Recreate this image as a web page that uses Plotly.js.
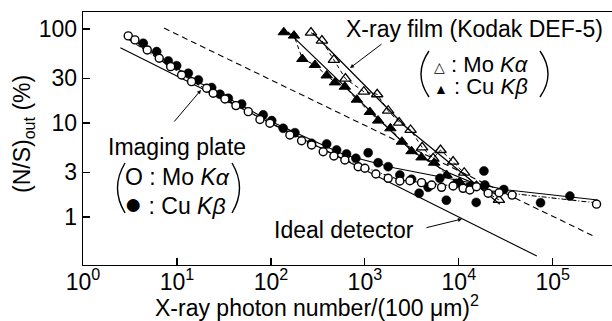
<!DOCTYPE html>
<html>
<head>
<meta charset="utf-8">
<script src="https://cdn.plot.ly/plotly-3.0.1.min.js"></script>
<style>html,body{margin:0;padding:0;background:#fff;}#chart{width:612px;height:321px;}</style>
</head>
<body>
<div id="chart"></div>
<script>
// ---- Data (x: photons per (100 µm)^2, y: (N/S)out in %) ----
// Imaging plate, Mo Kα (open circles)
const ipMoX = [3.03,3.57,4.83,6.48,8.57,11.2,14.3,20.7,24.3,32.4,42.4,57.4,76.4,97.5,159,212,271,360,468,612,849,1000,1309,1770,2355,3010,4010,5130,6550,8690,11100,13100,15400,20500,26800,36900,292000];
const ipMoY = [84.3,76.4,59.8,48.8,39.7,32.4,27.5,23.4,20.7,18.0,15.3,13.2,10.9,9.93,7.45,6.48,5.83,4.95,4.46,4.04,3.43,3.30,2.87,2.58,2.42,2.43,2.32,2.19,2.07,2.14,2.02,1.94,2.10,1.79,1.81,1.71,1.37];
// Imaging plate, Cu Kβ (filled circles)
const ipCuX = [4.38,6.08,8.08,9.93,13.2,16.9,23.4,28.7,35.2,48.8,82.8,102,135,180,271,392,500,638,802,1084,1384,1770,2355,3140,3780,4710,6280,7360,9460,12600,15300,18500,18900,30100,74000,152000];
const ipCuY = [70.4,57.4,45.7,40.7,33.8,28.7,23.8,20.2,18.3,15.9,12.2,10.6,8.78,7.88,6.08,5.98,5.16,4.68,4.21,4.83,3.78,3.43,2.80,2.52,1.79,2.07,2.58,1.51,2.28,2.07,1.43,3.09,2.19,1.96,1.42,1.67];
// X-ray film (Kodak DEF-5), Mo Kα (open triangles)
const filmMoX = [267,349,468,621,975,1352,1770,2317,3063,4070,5330,6380,8690,11400,15400,26700];
const filmMoY = [91.4,75.1,46.8,29.6,21.5,20.2,13.5,10.1,8.43,5.51,4.21,5.16,3.88,2.96,2.14,1.52];
// X-ray film, Cu Kβ (filled triangles)
const filmCuX = [137,176,216,294,392,480,612,822,1130,1384,1868,2477,3140,4010,5460,7400,10200,13600];
const filmCuY = [92.2,84.9,47.9,41.4,32.0,27.0,24.3,17.7,13.1,10.6,8.78,6.32,5.01,4.30,3.78,2.80,2.35,2.14];
// Fitted curves
const fitIpCuX = [3.01,17.6,97.5,612,2085,7100,33200,301000];
const fitIpCuY = [82.2,26.6,10.5,4.57,3.32,2.60,1.94,1.52];
const fitIpMoX = [3.01,17.6,97.5,612,2355,7100,33200,301000];
const fitIpMoY = [78.3,24.8,10.0,4.04,2.47,2.19,1.80,1.41];
const fitFilmMoX = [280,692,2800,12200,27300];
const fitFilmMoY = [90.6,36.6,8.85,2.66,1.37];
const fitFilmCuX = [152,612,3160,7450,15200,27300];
const fitFilmCuY = [92.9,24.2,5.04,3.01,2.24,1.67];
// Ideal detector and dashed reference line (end points)
const idealX = [2.5,67600];
const idealY = [63.2,0.385];
const dashedX = [7.28,269000];
const dashedY = [102,0.63];
// Tick labels
const xTickVals = [1,10,100,1000,10000,100000];
const xTickText = ['10<sup>0</sup>','10<sup>1</sup>','10<sup>2</sup>','10<sup>3</sup>','10<sup>4</sup>','10<sup>5</sup>'];
const yTickVals = [1,3,10,30,100];
const yTickText = ['1','3','10','30','100'];

// ---- Layout helpers (pixel -> paper) ----
const L=83, R=612, T=12, B=265;
const PX = p => (p-L)/(R-L);
const PY = p => (B-p)/(B-T);
const FONT = 'Liberation Sans, Arial, sans-serif';

const traces = [
  {x: idealX, y: idealY, mode:'lines', line:{color:'#000', width:1.1}},
  {x: dashedX, y: dashedY, mode:'lines', line:{color:'#000', width:1.1, dash:'6px,4px'}},
  {x: fitIpCuX, y: fitIpCuY, mode:'lines', line:{color:'#000', width:1.1}},
  {x: fitIpMoX, y: fitIpMoY, mode:'lines', line:{color:'#000', width:1.1, dash:'5px,2px,1px,2px'}},
  {x: fitFilmMoX, y: fitFilmMoY, mode:'lines', line:{color:'#000', width:1.2}},
  {x: fitFilmCuX, y: fitFilmCuY, mode:'lines', line:{color:'#000', width:1.2}},
  {x: filmCuX, y: filmCuY, mode:'lines+markers', line:{color:'#000', width:1, dash:'4px,3px'},
   marker:{symbol:'triangle-up', size:10, color:'#000', line:{color:'#000', width:1}}},
  {x: filmMoX, y: filmMoY, mode:'lines+markers', line:{color:'#000', width:1, dash:'4px,3px'},
   marker:{symbol:'triangle-up-open', size:10, color:'#000', line:{color:'#000', width:1.3}}},
  {x: ipCuX, y: ipCuY, mode:'markers',
   marker:{symbol:'circle', size:9, color:'#000', line:{color:'#000', width:0.5}}},
  {x: ipMoX, y: ipMoY, mode:'markers',
   marker:{symbol:'circle', size:8, color:'#fff', line:{color:'#000', width:1.4}}}
];

const tf = {family: FONT, size: 23, color:'#000'};
const af = {family: FONT, size: 23, color:'#000'};
const lf = {family: FONT, size: 22, color:'#000'};

const annotations = [
  {xref:'paper', yref:'paper', x:PX(344), y:PY(29), xanchor:'left', yanchor:'middle', showarrow:false,
   text:'X-ray film (Kodak DEF-5)', font:af},
  {xref:'paper', yref:'paper', x:PX(432), y:PY(64), xanchor:'left', yanchor:'middle', showarrow:false,
   text:'<span style="font-size:14px">△</span> : Mo <i>K</i><i>α</i>', font:lf},
  {xref:'paper', yref:'paper', x:PX(432), y:PY(87), xanchor:'left', yanchor:'middle', showarrow:false,
   text:'<span style="font-size:14px">▲</span> : Cu <i>K</i><i>β</i>', font:lf},
  {xref:'paper', yref:'paper', x:PX(106), y:PY(147), xanchor:'left', yanchor:'middle', showarrow:false,
   text:'Imaging plate', font:af},
  {xref:'paper', yref:'paper', x:PX(123), y:PY(177), xanchor:'left', yanchor:'middle', showarrow:false,
   text:'O : Mo <i>K</i><i>α</i>', font:af},
  {xref:'paper', yref:'paper', x:PX(122), y:PY(203), xanchor:'left', yanchor:'middle', showarrow:false,
   text:'<span style="font-size:30px">●</span> : Cu <i>K</i><i>β</i>', font:af},
  {xref:'paper', yref:'paper', x:PX(272), y:PY(230), xanchor:'left', yanchor:'middle', showarrow:false,
   text:'Ideal detector', font:af},
  // arrows
  {xref:'paper', yref:'paper', x:PX(201), y:PY(90), ax:173-201, ay:123-90, text:'', showarrow:true,
   arrowhead:2, arrowsize:0.8, arrowwidth:1, arrowcolor:'#000'},
  {xref:'paper', yref:'paper', x:PX(350), y:PY(68), ax:383-350, ay:43-68, text:'', showarrow:true,
   arrowhead:2, arrowsize:0.8, arrowwidth:1, arrowcolor:'#000'},
  {xref:'paper', yref:'paper', x:PX(462), y:PY(219), ax:425-462, ay:228-219, text:'', showarrow:true,
   arrowhead:2, arrowsize:0.8, arrowwidth:1, arrowcolor:'#000'},
  // axis titles
  {xref:'paper', yref:'paper', x:PX(317), y:PY(306), xanchor:'center', yanchor:'middle', showarrow:false,
   text:'X-ray photon number/(100 μm)<sup>2</sup>', font:{family:FONT, size:23, color:'#000'}},
  {xref:'paper', yref:'paper', x:PX(23), y:PY(134), xanchor:'center', yanchor:'middle', showarrow:false,
   textangle:-90, text:'(N/S)<sub>out</sub> (%)', font:{family:FONT, size:23, color:'#000'}}
];

const shapes = [
  // big parentheses
  {type:'path', xref:'paper', yref:'paper', line:{color:'#000', width:1.4},
   path:`M ${PX(429)} ${PY(51)} Q ${PX(413)} ${PY(74)} ${PX(429)} ${PY(97)}`},
  {type:'path', xref:'paper', yref:'paper', line:{color:'#000', width:1.4},
   path:`M ${PX(540)} ${PY(51)} Q ${PX(556)} ${PY(74)} ${PX(540)} ${PY(97)}`},
  {type:'path', xref:'paper', yref:'paper', line:{color:'#000', width:1.4},
   path:`M ${PX(125)} ${PY(163)} Q ${PX(110)} ${PY(188)} ${PX(125)} ${PY(213)}`},
  {type:'path', xref:'paper', yref:'paper', line:{color:'#000', width:1.4},
   path:`M ${PX(232)} ${PY(163)} Q ${PX(247)} ${PY(188)} ${PX(232)} ${PY(213)}`}
];

const layout = {
  width:612, height:321,
  margin:{l:L, r:0, t:T, b:321-B, pad:0},
  paper_bgcolor:'#fff', plot_bgcolor:'#fff',
  showlegend:false,
  font:{family:FONT, color:'#000'},
  xaxis:{type:'log', range:[0, 5.63], tickmode:'array', tickvals:xTickVals, ticktext:xTickText,
    ticks:'inside', ticklen:7, tickwidth:1.2, tickcolor:'#000', showgrid:false, zeroline:false,
    showline:true, linecolor:'#000', linewidth:1.4, mirror:true, tickfont:tf, ticklabelstandoff:-4},
  yaxis:{type:'log', range:[-0.51, 2.18], tickmode:'array', tickvals:yTickVals, ticktext:yTickText,
    ticks:'inside', ticklen:7, tickwidth:1.2, tickcolor:'#000', showgrid:false, zeroline:false,
    showline:true, linecolor:'#000', linewidth:1.4, mirror:false, tickfont:tf},
  annotations: annotations,
  shapes: shapes
};

Plotly.newPlot('chart', traces, layout, {staticPlot:true, displayModeBar:false});
</script>
</body>
</html>
